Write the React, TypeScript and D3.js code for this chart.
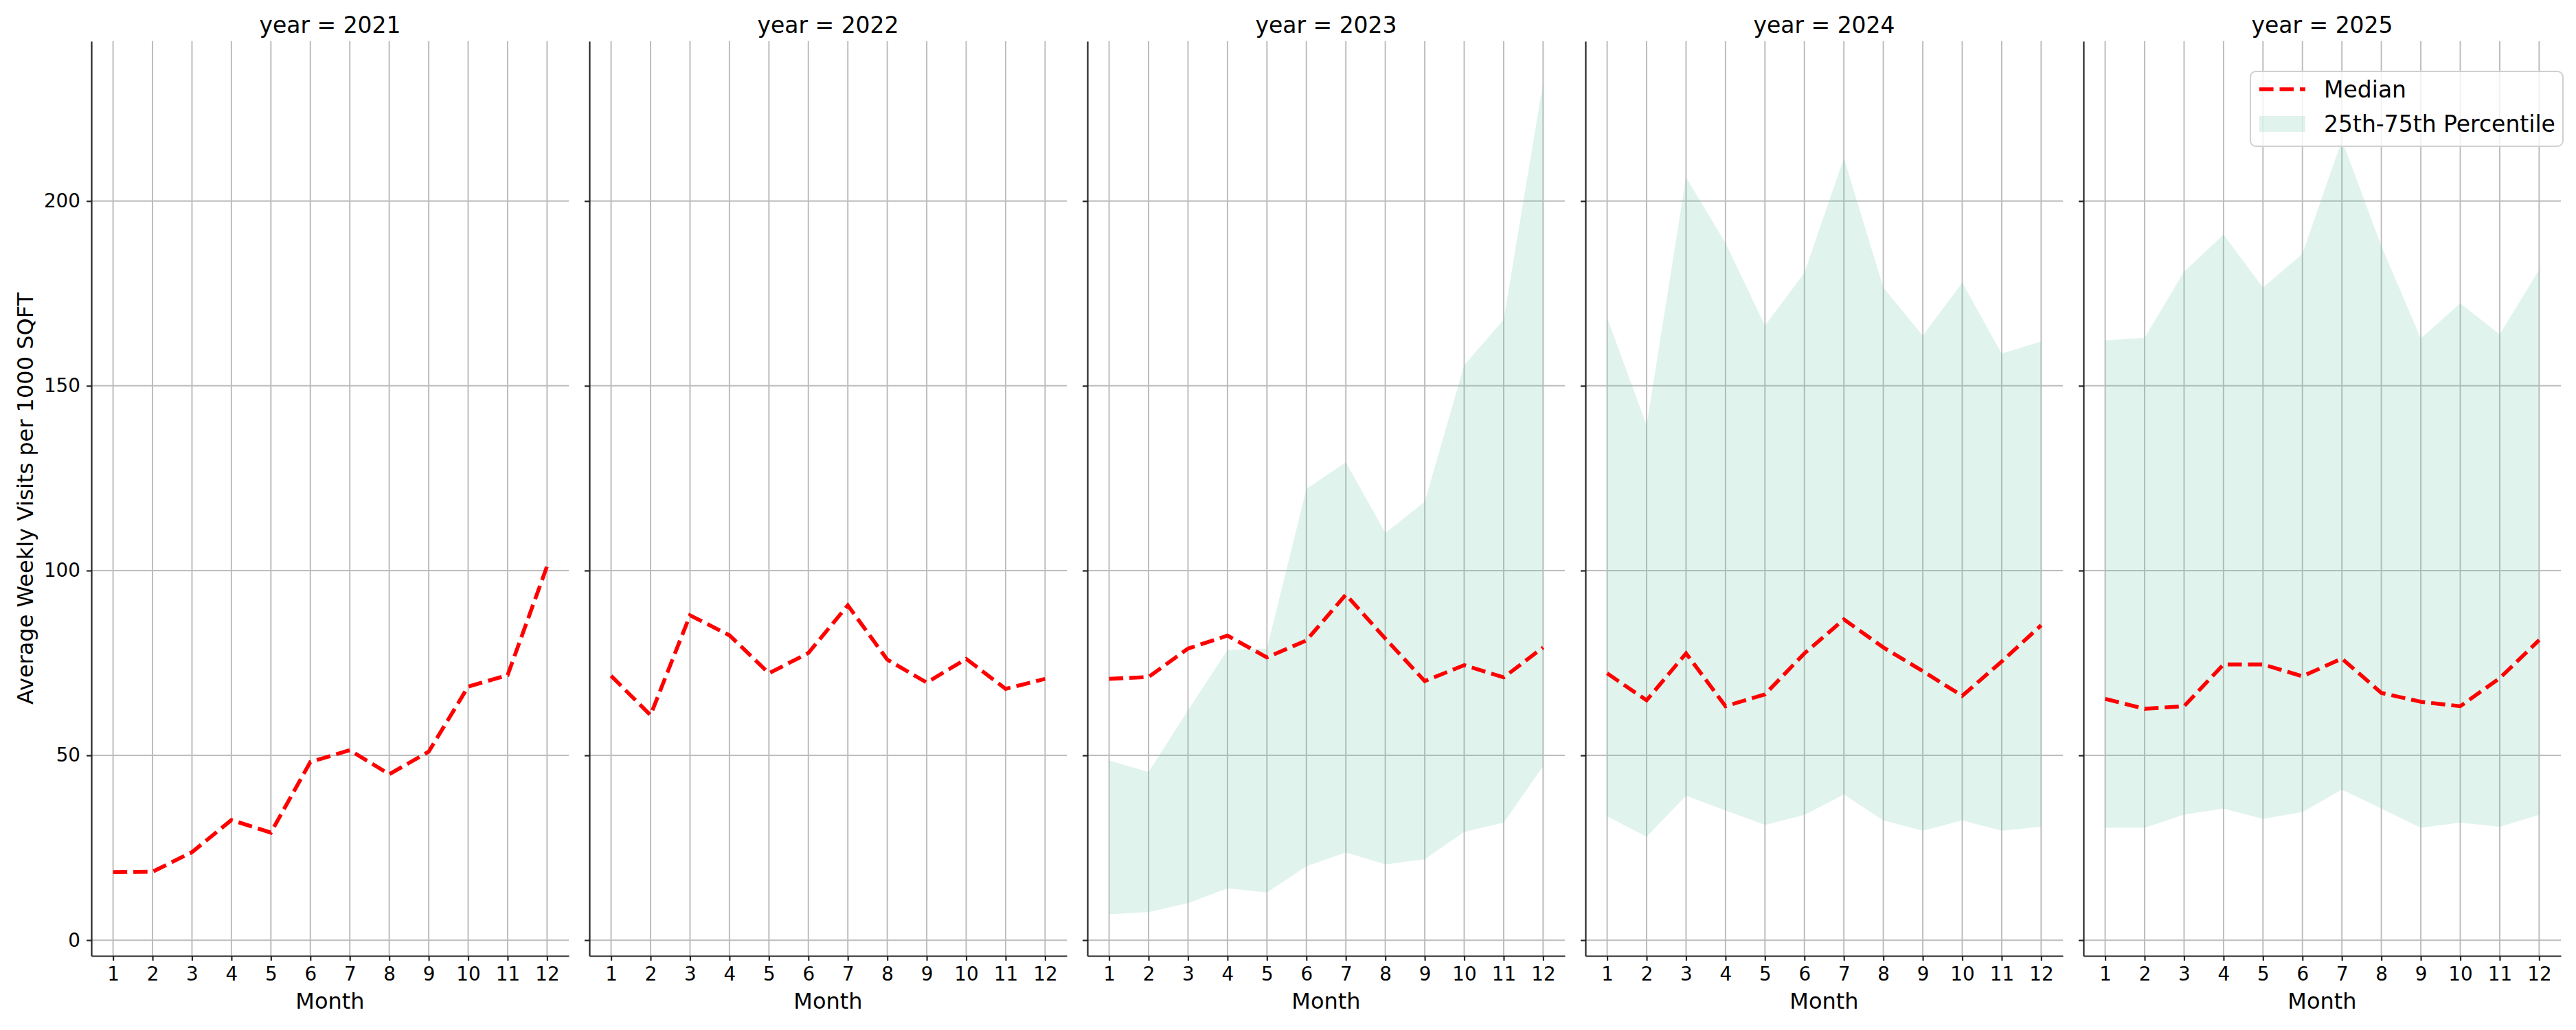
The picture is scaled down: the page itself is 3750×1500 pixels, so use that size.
import React, { useEffect, useRef } from "react";
import * as d3 from "d3";

// months on the x axis, one facet per year
const months = [1, 2, 3, 4, 5, 6, 7, 8, 9, 10, 11, 12];
const years = [2021, 2022, 2023, 2024, 2025];
const yTicks = [0, 50, 100, 150, 200];

// median weekly visits per 1000 sqft
const median2021 = [18.4, 18.5, 23.8, 32.5, 29.1, 48.2, 51.4, 44.9, 51.0, 68.6, 71.7, 101.2];
const median2022 = [71.5, 60.9, 87.9, 82.5, 72.2, 77.7, 90.6, 75.9, 69.7, 76.1, 68.0, 70.7];
const median2023 = [70.7, 71.2, 78.9, 82.4, 76.5, 81.1, 93.5, 81.6, 70.1, 74.4, 71.1, 79.2];
const median2024 = [72.2, 64.9, 77.6, 63.3, 66.5, 77.6, 86.8, 79.2, 72.8, 66.1, 75.4, 85.2];
const median2025 = [65.3, 62.6, 63.3, 74.6, 74.6, 71.4, 76.2, 66.9, 64.5, 63.3, 70.9, 81.2];

// 25th / 75th percentile band (only from 2023 on)
const p25_2023 = [7.0, 7.6, 10.0, 14.0, 12.9, 20.0, 23.7, 20.5, 21.9, 29.3, 31.8, 47.1];
const p75_2023 = [48.6, 45.5, 62.2, 78.5, 78.9, 122.1, 129.3, 110.2, 118.6, 155.6, 167.9, 232.0];
const p25_2024 = [33.5, 28.0, 39.1, 35.1, 31.2, 33.9, 39.4, 32.4, 29.6, 32.4, 29.6, 30.7];
const p75_2024 = [168.4, 139.3, 206.4, 188.6, 166.3, 180.6, 211.6, 176.6, 163.6, 177.9, 158.7, 162.0];
const p25_2025 = [30.4, 30.4, 34.0, 35.6, 32.8, 34.7, 40.7, 35.6, 30.4, 31.8, 30.7, 33.9];
const p75_2025 = [162.3, 163.0, 180.9, 190.9, 176.6, 185.7, 216.5, 187.8, 162.8, 172.3, 163.9, 181.4];

const medians = [median2021, median2022, median2023, median2024, median2025];
const lowers: (number[] | null)[] = [null, null, p25_2023, p25_2024, p25_2025];
const uppers: (number[] | null)[] = [null, null, p75_2023, p75_2024, p75_2025];

const FONT = "DejaVu Sans, sans-serif";
const RED = "#ff0000";
const BAND = "#66c2a5";

const App: React.FC = () => {
  const svgRef = useRef<SVGSVGElement>(null);

  useEffect(() => {
    if (!svgRef.current) return;
    const width = 3750;
    const height = 1500;
    const svg = d3.select(svgRef.current);
    svg.selectAll("*").remove();
    svg.attr("width", width).attr("height", height).attr("viewBox", `0 0 ${width} ${height}`);

    svg.append("rect").attr("width", width).attr("height", height).attr("fill", "#fff");

    const top = 60;
    const innerH = 1332;
    const innerW = 695;
    const firstLeft = 133;
    const pitch = 725;

    const allVals = [
      ...medians.flat(),
      ...lowers.flatMap(d => d ?? []),
      ...uppers.flatMap(d => d ?? []),
    ];
    const lo = d3.min(allVals) ?? 0;
    const hi = d3.max(allVals) ?? 1;
    const pad = (hi - lo) * 0.05;

    const xScale = d3.scaleLinear().domain([0.45, 12.55]).range([0, innerW]);
    const yScale = d3.scaleLinear().domain([lo - pad, hi + pad]).range([innerH, 0]);

    years.forEach((year, i) => {
      const left = firstLeft + i * pitch;
      const g = svg.append("g").attr("transform", `translate(${left},${top})`);

      // grid
      g.selectAll("line.vgrid")
        .data(months)
        .join("line")
        .attr("class", "vgrid")
        .attr("x1", d => xScale(d))
        .attr("x2", d => xScale(d))
        .attr("y1", 0)
        .attr("y2", innerH)
        .attr("stroke", "#bdbdbd")
        .attr("stroke-width", 2);

      g.selectAll("line.hgrid")
        .data(yTicks)
        .join("line")
        .attr("class", "hgrid")
        .attr("x1", 0)
        .attr("x2", innerW)
        .attr("y1", d => yScale(d))
        .attr("y2", d => yScale(d))
        .attr("stroke", "#bdbdbd")
        .attr("stroke-width", 2);

      const low = lowers[i];
      const up = uppers[i];
      if (low && up) {
        const area = d3.area<number>()
          .x(d => xScale(d))
          .y0((_, j) => yScale(low[j]))
          .y1((_, j) => yScale(up[j]));
        g.append("path")
          .datum(months)
          .attr("d", area)
          .attr("fill", BAND)
          .attr("fill-opacity", 0.2);
      }

      const med = medians[i];
      const line = d3.line<number>()
        .x(d => xScale(d))
        .y((_, j) => yScale(med[j]));
      g.append("path")
        .datum(months)
        .attr("d", line)
        .attr("fill", "none")
        .attr("stroke", RED)
        .attr("stroke-width", 5.6)
        .attr("stroke-dasharray", "20.6,8.9");

      // axes
      const xAxis = g.append("g")
        .attr("transform", `translate(0,${innerH})`)
        .call(d3.axisBottom(xScale).tickValues(months).tickFormat(d3.format("d")).tickSize(7).tickSizeOuter(0).tickPadding(9));
      xAxis.selectAll("text").style("font-size", "27.8px").style("font-family", FONT).attr("fill", "#000");
      xAxis.selectAll("path, line").attr("stroke", "#262626").attr("stroke-width", 2.2);

      const yAxis = g.append("g")
        .call(d3.axisLeft(yScale).tickValues(yTicks).tickSize(7).tickSizeOuter(0).tickPadding(9)
          .tickFormat(i === 0 ? d3.format("d") : (() => "") as any));
      yAxis.selectAll("text").style("font-size", "27.8px").style("font-family", FONT).attr("fill", "#000");
      yAxis.selectAll("path, line").attr("stroke", "#262626").attr("stroke-width", 2.2);

      g.append("text")
        .attr("x", innerW / 2)
        .attr("y", 48 - top)
        .attr("text-anchor", "middle")
        .style("font-size", "33px")
        .style("font-family", FONT)
        .text(`year = ${year}`);

      g.append("text")
        .attr("x", innerW / 2)
        .attr("y", 1469 - top)
        .attr("text-anchor", "middle")
        .style("font-size", "32px")
        .style("font-family", FONT)
        .text("Month");
    });

    svg.append("text")
      .attr("transform", `translate(48,${top + innerH / 2}) rotate(-90)`)
      .attr("text-anchor", "middle")
      .style("font-size", "32px")
      .style("font-family", FONT)
      .text("Average Weekly Visits per 1000 SQFT");

    // legend in last facet
    const lg = svg.append("g");
    lg.append("rect")
      .attr("x", 3276).attr("y", 104).attr("width", 455).attr("height", 109)
      .attr("rx", 8)
      .attr("fill", "#fff").attr("fill-opacity", 0.8)
      .attr("stroke", "#d0d0d0").attr("stroke-width", 2);
    lg.append("line")
      .attr("x1", 3289).attr("x2", 3356).attr("y1", 130).attr("y2", 130)
      .attr("stroke", RED).attr("stroke-width", 5.6).attr("stroke-dasharray", "20.6,8.9");
    lg.append("rect")
      .attr("x", 3289).attr("y", 169).attr("width", 67).attr("height", 23)
      .attr("fill", BAND).attr("fill-opacity", 0.2);
    lg.append("text")
      .attr("x", 3383).attr("y", 142)
      .style("font-size", "33px").style("font-family", FONT)
      .text("Median");
    lg.append("text")
      .attr("x", 3383).attr("y", 192)
      .style("font-size", "33px").style("font-family", FONT)
      .text("25th-75th Percentile");
  }, []);

  return (
    <svg
      ref={svgRef}
      style={{ position: "absolute", left: 0, top: 0, display: "block" }}
    />
  );
};

export default App;
